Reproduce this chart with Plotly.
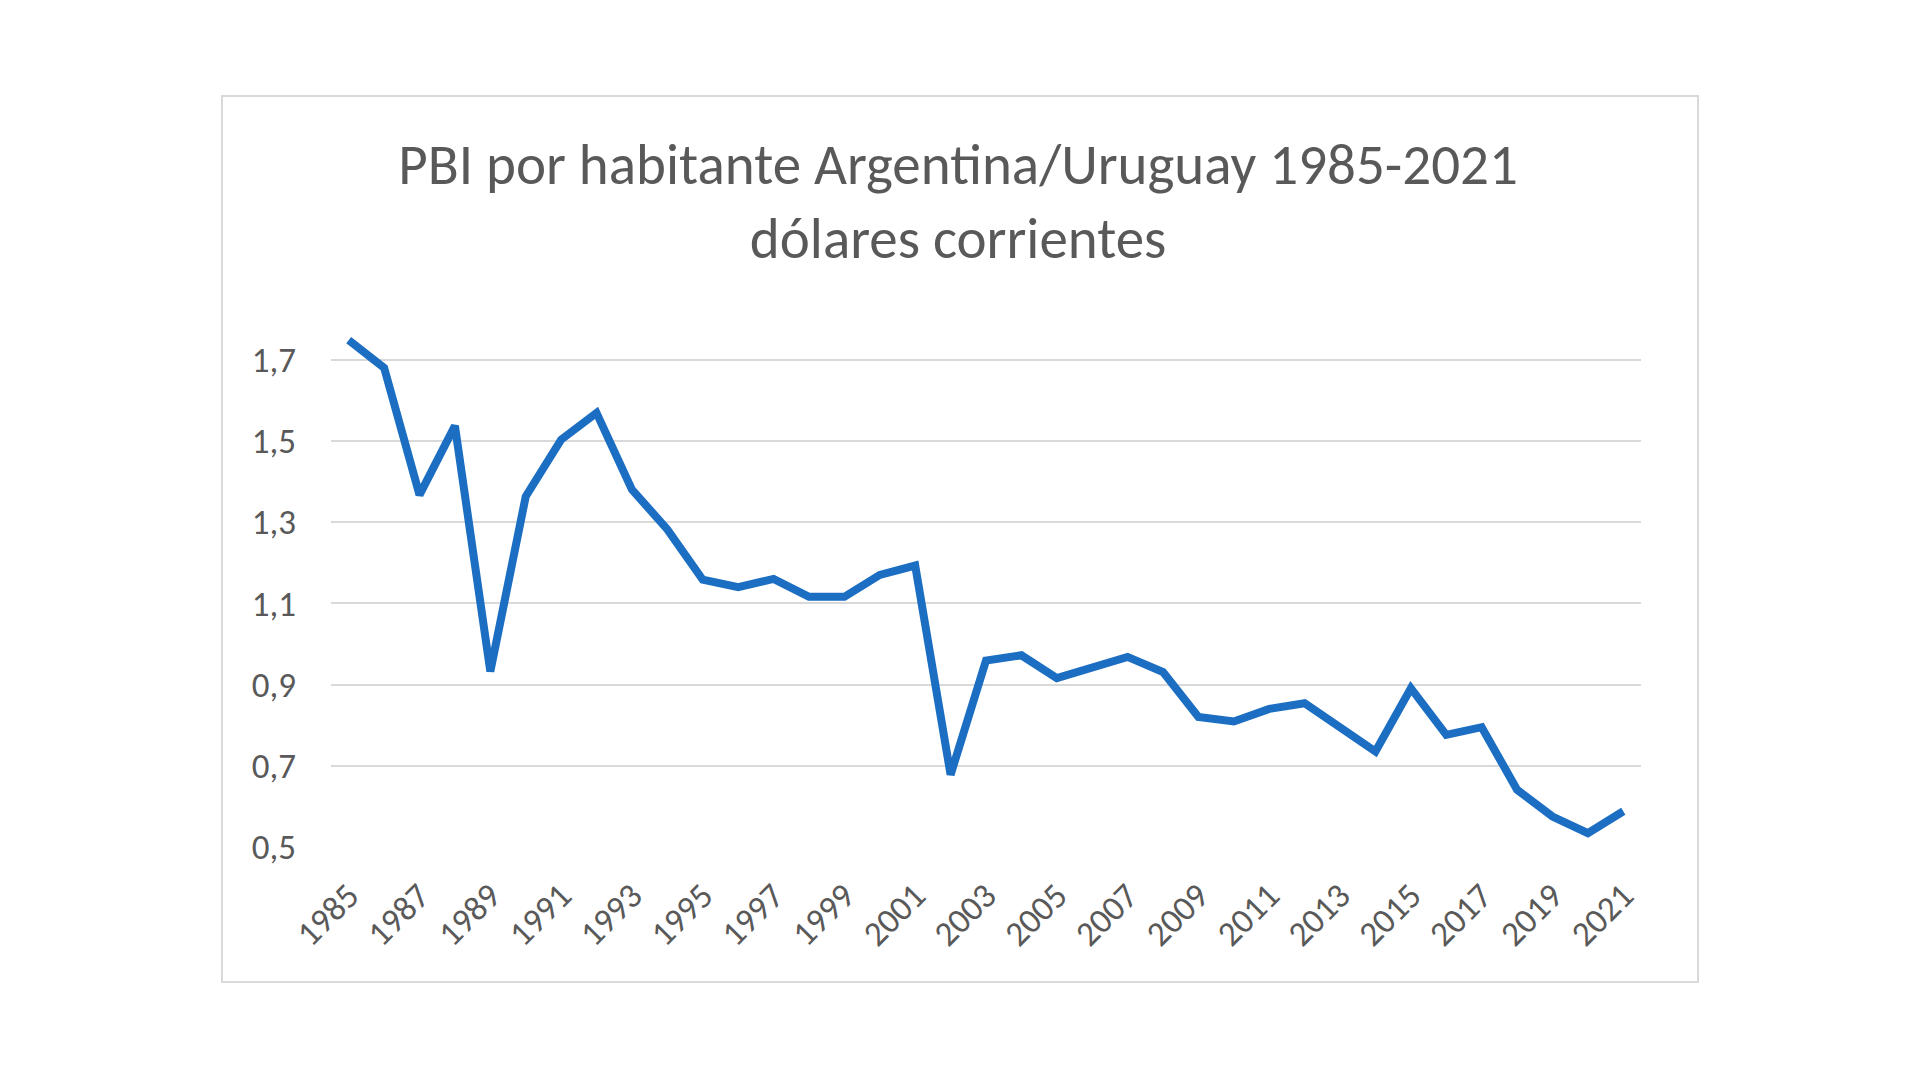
import plotly.graph_objects as go

years = list(range(1985, 2022))
ratio = [
    1.748, 1.680, 1.367, 1.537, 0.932, 1.363, 1.503, 1.569, 1.380, 1.282,
    1.158, 1.140, 1.160, 1.116, 1.116, 1.170, 1.193, 0.678, 0.959, 0.972,
    0.916, 0.940, 0.968, 0.931, 0.820, 0.809, 0.840, 0.854, 0.795, 0.735,
    0.891, 0.776, 0.795, 0.641, 0.575, 0.534, 0.588,
]
y_ticks = [0.5, 0.7, 0.9, 1.1, 1.3, 1.5, 1.7]
x_ticks = list(range(1985, 2022, 2))

title_text = "PBI por habitante Argentina/Uruguay 1985-2021<br>dólares corrientes"

font_family = "Carlito, Lato, sans-serif"
grey = "#595959"

fig = go.Figure()
fig.add_trace(go.Scatter(
    x=years, y=ratio, mode="lines",
    line=dict(color="#1b6ec2", width=8),
    hoverinfo="x+y",
))

W, H = 1920, 1079
left, right, top, bottom = 331, 1641, 319, 847

fig.update_layout(
    width=W, height=H,
    margin=dict(l=left, r=W - right, t=top, b=H - bottom, pad=0),
    paper_bgcolor="white", plot_bgcolor="white",
    separators=",.",
    showlegend=False,
    font=dict(family=font_family, color=grey),
    title=dict(
        text=title_text, x=0.499, xanchor="center",
        y=1 - 184 / H, yanchor="middle",
        font=dict(size=57, color=grey, family=font_family),
    ),
    xaxis=dict(
        range=[1984.5, 2021.5], tickvals=x_ticks, tickangle=-45,
        showgrid=False, zeroline=False, showline=False, ticks="",
        tickfont=dict(size=35, color=grey), ticklabelstandoff=20,
    ),
    yaxis=dict(
        range=[0.5, 1.8], tickvals=y_ticks, tickformat=".1f",
        showgrid=True, gridcolor="#d9d9d9", gridwidth=2,
        zeroline=False, showline=False, ticks="",
        tickfont=dict(size=35, color=grey), ticklabelstandoff=34,
    ),
    shapes=[dict(
        type="rect", xref="paper", yref="paper",
        x0=(222 - left) / (right - left), x1=(1698 - left) / (right - left),
        y0=(bottom - 982) / (bottom - top), y1=(bottom - 96) / (bottom - top),
        line=dict(color="#d9d9d9", width=2), fillcolor="rgba(0,0,0,0)",
        layer="below",
    )],
)

fig.write_html(
    "out.html",
    config={"displayModeBar": False},
    post_script="document.body.style.margin='0';document.body.style.overflow='hidden';",
)
